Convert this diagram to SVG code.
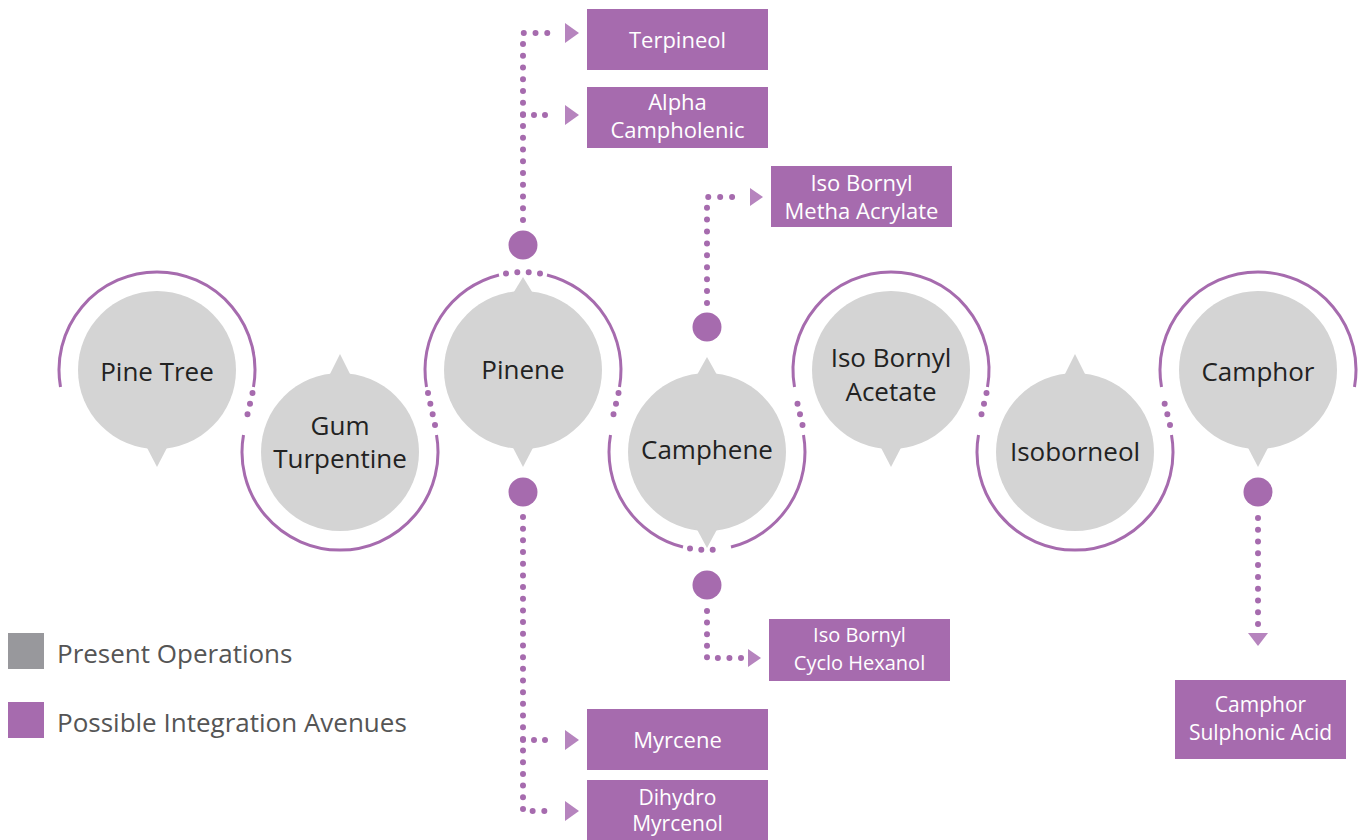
<svg xmlns="http://www.w3.org/2000/svg" width="1365" height="840" viewBox="0 0 1365 840">
<style>
.node circle.g{fill:#d4d4d4}
.node polygon{fill:#d4d4d4}
.nt{font-family:"Open Sans","Liberation Sans",sans-serif;font-size:26px;fill:#222;text-anchor:middle}
.arc{fill:none;stroke:#a66bae;stroke-width:3}
.dots{fill:none;stroke:#a66bae;stroke-width:6;stroke-linecap:round;stroke-dasharray:0 1}
.hub{fill:#a66bae}
.box rect{fill:#a66bae}
.bt{font-family:"Open Sans","Liberation Sans",sans-serif;font-size:22px;fill:#fff;text-anchor:middle}
.ah{fill:#b684be}
.lg{font-family:"Open Sans","Liberation Sans",sans-serif;font-size:26px;fill:#555}
</style>
<rect width="1365" height="840" fill="#fff"/>

<g id="connectors">
  <path class="arc" d="M60.5,387 A98,98 0 1 1 253.5,387"/>
  <path class="dots" pathLength="3" d="M252.5,393 L245,425"/>
  <path class="arc" d="M243.5,435 A98,98 0 1 0 436.5,435"/>
  <path class="dots" pathLength="3" d="M435,425 L428,393"/>
  <path class="arc" d="M426.5,387 A98,98 0 0 1 499,275"/>
  <path class="dots" pathLength="3" d="M506,273.5 A98,98 0 0 1 540,273.5"/>
  <path class="arc" d="M547,275 A98,98 0 0 1 619.5,387"/>
  <path class="dots" pathLength="3" d="M618.5,393 L611,425"/>
  <path class="arc" d="M610.5,435 A98,98 0 0 0 683,547"/>
  <path class="dots" pathLength="3" d="M690,548.5 A98,98 0 0 0 724,548.5"/>
  <path class="arc" d="M731,547 A98,98 0 0 0 803.5,435"/>
  <path class="dots" pathLength="3" d="M802.5,425 L795,393"/>
  <path class="arc" d="M794.5,387 A98,98 0 1 1 987.5,387"/>
  <path class="dots" pathLength="3" d="M986.5,393 L979,425"/>
  <path class="arc" d="M978.5,435 A98,98 0 1 0 1171.5,435"/>
  <path class="dots" pathLength="3" d="M1170,425 L1162,393"/>
  <path class="arc" d="M1161.5,387 A98,98 0 1 1 1354.5,387"/>

  <circle class="hub" cx="523" cy="245" r="14.5"/>
  <circle class="hub" cx="523" cy="492" r="14.5"/>
  <circle class="hub" cx="707" cy="327" r="14.5"/>
  <circle class="hub" cx="707" cy="585" r="14.5"/>
  <circle class="hub" cx="1258" cy="492" r="14.5"/>

  <path class="dots" pathLength="19" d="M523,220 L523,33 L559,33"/>
  <path class="dots" pathLength="3" d="M523,115 L556,115"/>
  <polygon class="ah" points="565,23 565,43 579,33"/>
  <polygon class="ah" points="565,105 565,125 579,115"/>
  <path class="dots" pathLength="28" d="M523,517 L523,811 L556,811"/>
  <path class="dots" pathLength="3" d="M523,740 L556,740"/>
  <polygon class="ah" points="565,730 565,750 579,740"/>
  <polygon class="ah" points="565,801 565,821 579,811"/>
  <path class="dots" pathLength="12" d="M707,303 L707,197 L744,197"/>
  <polygon class="ah" points="750,188 750,206 763,197"/>
  <path class="dots" pathLength="7" d="M707,611 L707,658 L741,658"/>
  <polygon class="ah" points="748,649 748,667 761,658"/>
  <path class="dots" pathLength="9" d="M1258,518 L1258,624"/>
  <polygon class="ah" points="1248,633 1268,633 1258,646"/>
</g>

<g id="pine-tree" class="node">
  <circle class="g" cx="157" cy="370" r="79"/>
  <polygon points="143,440 171,440 157,467"/>
  <text class="nt" x="157" y="381">Pine Tree</text>
</g>
<g id="gum-turpentine" class="node">
  <circle class="g" cx="340" cy="452" r="79"/>
  <polygon points="326,382 354,382 340,354"/>
  <text class="nt" x="340" y="435">Gum</text>
  <text class="nt" x="340" y="468">Turpentine</text>
</g>
<g id="pinene" class="node">
  <circle class="g" cx="523" cy="370" r="79"/>
  <polygon points="509,300 537,300 523,277"/>
  <polygon points="509,440 537,440 523,467"/>
  <text class="nt" x="523" y="379">Pinene</text>
</g>
<g id="camphene" class="node">
  <circle class="g" cx="707" cy="452" r="79"/>
  <polygon points="693,382 721,382 707,357"/>
  <polygon points="693,522 721,522 707,548"/>
  <text class="nt" x="707" y="459">Camphene</text>
</g>
<g id="iso-bornyl-acetate" class="node">
  <circle class="g" cx="891" cy="370" r="79"/>
  <polygon points="877,440 905,440 891,467"/>
  <text class="nt" x="891" y="367">Iso Bornyl</text>
  <text class="nt" x="891" y="401">Acetate</text>
</g>
<g id="isoborneol" class="node">
  <circle class="g" cx="1075" cy="452" r="79"/>
  <polygon points="1061,382 1089,382 1075,354"/>
  <text class="nt" x="1075" y="461">Isoborneol</text>
</g>
<g id="camphor" class="node">
  <circle class="g" cx="1258" cy="370" r="79"/>
  <polygon points="1244,440 1272,440 1258,467"/>
  <text class="nt" x="1258" y="381">Camphor</text>
</g>

<g id="terpineol" class="box">
  <rect x="587" y="9" width="181" height="61"/>
  <text class="bt" x="677.5" y="48">Terpineol</text>
</g>
<g id="alpha-campholenic" class="box">
  <rect x="587" y="87" width="181" height="61"/>
  <text class="bt" x="677.5" y="110">Alpha</text>
  <text class="bt" x="677.5" y="138">Campholenic</text>
</g>
<g id="iso-bornyl-metha-acrylate" class="box">
  <rect x="771" y="166" width="181" height="61"/>
  <text class="bt" x="861.5" y="191">Iso Bornyl</text>
  <text class="bt" x="861.5" y="219">Metha Acrylate</text>
</g>
<g id="iso-bornyl-cyclo-hexanol" class="box">
  <rect x="769" y="619" width="181" height="62"/>
  <text class="bt" x="859.5" y="642" style="font-size:20px">Iso Bornyl</text>
  <text class="bt" x="859.5" y="670" style="font-size:20px">Cyclo Hexanol</text>
</g>
<g id="myrcene" class="box">
  <rect x="587" y="709" width="181" height="61"/>
  <text class="bt" x="677.5" y="748">Myrcene</text>
</g>
<g id="dihydro-myrcenol" class="box">
  <rect x="587" y="780" width="181" height="60"/>
  <text class="bt" x="677.5" y="805" style="font-size:21px">Dihydro</text>
  <text class="bt" x="677.5" y="831" style="font-size:21px">Myrcenol</text>
</g>
<g id="camphor-sulphonic-acid" class="box">
  <rect x="1175" y="680" width="171" height="79"/>
  <text class="bt" x="1260.5" y="712" style="font-size:21px">Camphor</text>
  <text class="bt" x="1260.5" y="740" style="font-size:21px">Sulphonic Acid</text>
</g>

<g id="legend">
  <rect x="8" y="633" width="36" height="36" fill="#98989c"/>
  <text class="lg" x="57" y="663">Present Operations</text>
  <rect x="8" y="702" width="36" height="36" fill="#a66bae"/>
  <text class="lg" x="57" y="732">Possible Integration Avenues</text>
</g>
</svg>
